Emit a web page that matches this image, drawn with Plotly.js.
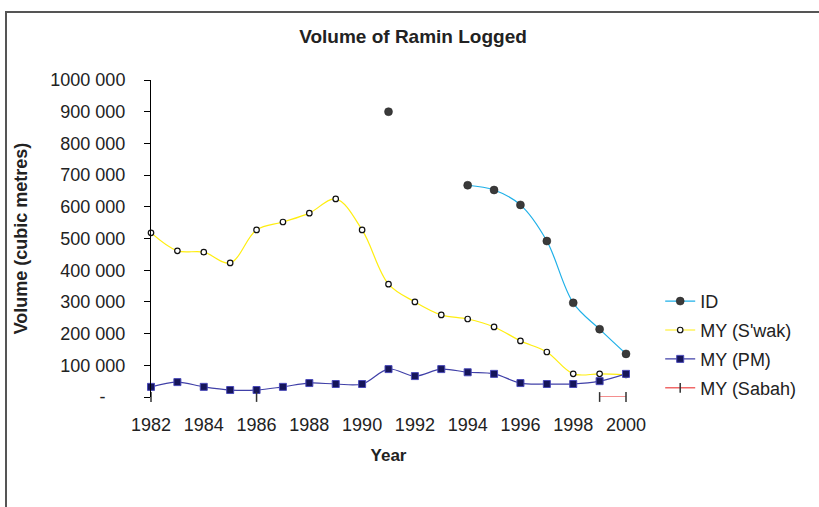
<!DOCTYPE html>
<html>
<head>
<meta charset="utf-8">
<script src="https://cdn.plot.ly/plotly-3.0.1.min.js"></script>
<style>
  html, body { margin: 0; padding: 0; background: #fff; }
  #wrap { position: relative; width: 819px; height: 507px; overflow: hidden; }
  #chart { position: absolute; left: 0; top: 0; width: 819px; height: 507px; }
  #frame { position: absolute; left: 5px; top: 11px; width: 830px; height: 510px;
           border-top: 2px solid #555; border-left: 2px solid #555; pointer-events: none; }
</style>
</head>
<body>
<div id="wrap">
  <div id="chart"></div>
  <div id="frame"></div>
</div>
<script>
// ---- data ----
const years = [1982,1983,1984,1985,1986,1987,1988,1989,1990,1991,1992,1993,1994,1995,1996,1997,1998,1999,2000];

const idVolume = [null,null,null,null,null,null,null,null,null,900000,null,null,668000,653000,606000,492000,297000,214000,136000];

const swakVolume = [518000,461000,457000,423000,527000,552000,580000,625000,527000,356000,300000,259000,246000,221000,177000,142000,73000,73000,70000];

const pmVolume = [32000,47000,32000,22000,22000,32000,44000,41000,41000,88000,66000,88000,78000,73000,44000,41000,41000,50000,73000];

const sabahVolume = [0,null,null,null,0,null,null,null,null,null,null,null,null,null,null,null,null,0,0];

const yTickVals = [0,100000,200000,300000,400000,500000,600000,700000,800000,900000,1000000];
const yTickText = ['-\u00a0\u00a0\u00a0\u00a0','100 000','200 000','300 000','400 000','500 000','600 000','700 000','800 000','900 000','1000 000'];
const xTickVals = [1982,1984,1986,1988,1990,1992,1994,1996,1998,2000];

const FONT = 'Liberation Sans, Arial, sans-serif';

const traces = [
  {
    name: 'ID', legendgroup: 'g1', x: years, y: idVolume, mode: 'lines+markers', cliponaxis: false,
    line: {color: '#1fb0e8', width: 1.2, shape: 'spline', smoothing: 1},
    marker: {symbol: 'circle', size: 8, color: '#3a3a3a', line: {color: '#222', width: 0.5}}
  },
  {
    name: "MY (S'wak)", legendgroup: 'g2', x: years, y: swakVolume, mode: 'lines+markers', cliponaxis: false,
    line: {color: '#ffee10', width: 1.2, shape: 'spline', smoothing: 1},
    marker: {symbol: 'circle', size: 5.5, color: '#ffffff', line: {color: '#111', width: 1.2}}
  },
  {
    name: 'MY (PM)', legendgroup: 'g3', x: years, y: pmVolume, mode: 'lines+markers', cliponaxis: false,
    line: {color: '#4040a8', width: 1.2, shape: 'spline', smoothing: 1},
    marker: {symbol: 'square', size: 7, color: '#15155a', line: {color: '#4a4ab8', width: 1}}
  },
  {
    name: 'MY (Sabah)', legendgroup: 'g4', x: years, y: sabahVolume, mode: 'lines+markers', cliponaxis: false,
    connectgaps: false,
    line: {color: '#f06868', width: 1.5},
    marker: {symbol: 'line-ns-open', size: 7, color: '#333', line: {color: '#333', width: 1.5}}
  }
];

const layout = {
  width: 819, height: 507,
  paper_bgcolor: '#ffffff', plot_bgcolor: '#ffffff',
  margin: {l: 151, r: 193, t: 80, b: 110, pad: 0},
  font: {family: FONT, color: '#222', size: 18},
  showlegend: true,
  title: {
    text: '<b>Volume of Ramin Logged</b>',
    font: {family: FONT, size: 19, color: '#222'},
    x: 413/819, xref: 'container', xanchor: 'center',
    y: 1 - 36/507, yref: 'container', yanchor: 'middle'
  },
  xaxis: {
    type: 'linear', range: [1982, 2000], autorange: false,
    tickmode: 'array', tickvals: xTickVals, ticktext: xTickVals.map(String),
    ticks: '', showline: false, showgrid: false, zeroline: false,
    ticklabelstandoff: 15,
    tickfont: {family: FONT, size: 18, color: '#222'},
    title: {text: '<b>Year</b>', font: {family: FONT, size: 17, color: '#222'}, standoff: 15}
  },
  yaxis: {
    range: [0, 1000000], autorange: false,
    tickmode: 'array', tickvals: yTickVals, ticktext: yTickText,
    ticks: 'outside', ticklen: 6, tickcolor: '#000', tickwidth: 1,
    showline: true, linecolor: '#000', linewidth: 1,
    showgrid: false, zeroline: false,
    ticklabelstandoff: 15,
    tickfont: {family: FONT, size: 18, color: '#222'},
    title: {text: '<b>Volume (cubic metres)</b>', font: {family: FONT, size: 18, color: '#222'}, standoff: 18}
  },
  legend: {
    x: 1.072, xanchor: 'left', y: 0.36, yanchor: 'top',
    bgcolor: 'rgba(0,0,0,0)', borderwidth: 0,
    font: {family: FONT, size: 18, color: '#222'},
    itemwidth: 30, traceorder: 'grouped', tracegroupgap: 2.5
  }
};

Plotly.newPlot('chart', traces, layout, {staticPlot: true, displayModeBar: false});
</script>
</body>
</html>
